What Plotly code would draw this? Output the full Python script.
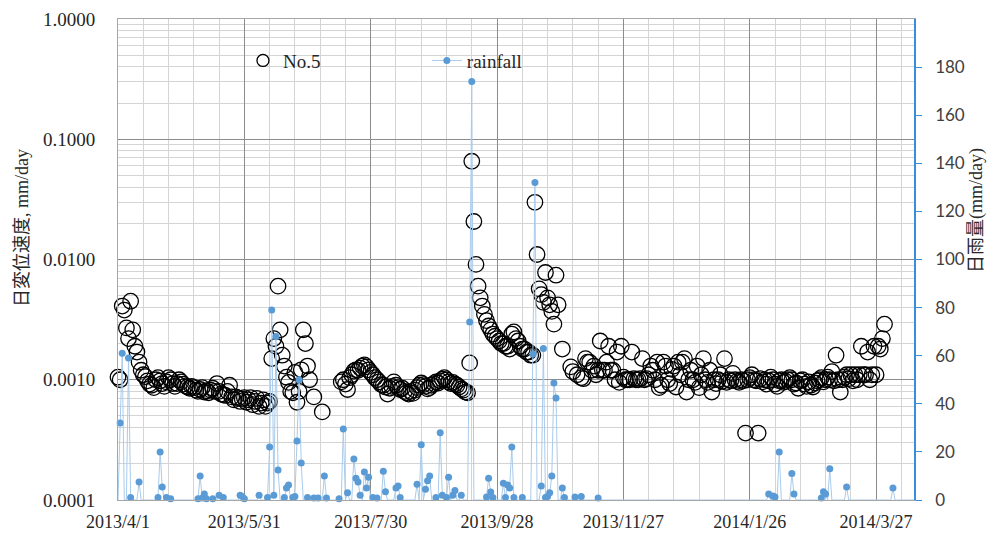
import datetime as dt
import plotly.graph_objects as go

START = dt.date(2013, 4, 1)

# Daily displacement rate at No.5 (mm/day), one value per day from 2013/4/1; None = no reading
rate = [
    0.00105, 0.00100, 0.0041, 0.0038, 0.0027, 0.0022, 0.0045, 0.0026, 0.0019, 0.0017,
    0.0014, 0.0012, 0.00110, 0.00106, 0.00098, 0.00092, 0.00090, 0.00086, 0.00100, 0.00104,
    0.00098, 0.00093, 0.00088, 0.00096, 0.00104, 0.00100, 0.00093, 0.00088, 0.00093, 0.00100,
    0.00096, 0.00092, 0.00089, 0.00087, 0.00085, 0.00088, 0.00086, 0.00082, 0.00080, 0.00083,
    0.00086, 0.00079, 0.00081, 0.00078, 0.00082, 0.00085, 0.00080, 0.00093, 0.00080, 0.00076,
    0.00075, 0.00074, 0.00080, 0.00090, 0.00072, 0.00068, 0.00072, 0.00070, 0.00066, 0.00069,
    0.00071, 0.00065, 0.00068, 0.00071, 0.00062, 0.00066, 0.00070, 0.00060, 0.00064, 0.00068,
    0.00060, 0.00064, 0.00066, 0.0015, 0.0022, 0.0019, 0.0060, 0.0026, 0.0016, 0.0013,
    0.00105, 0.00095, 0.00080, 0.00078, 0.00115, 0.00065, 0.00080, 0.00121, 0.0026, 0.0020,
    0.0013, 0.0010, None, 0.00072, None, None, None, 0.00054, None, None,
    None, None, None, None, None, None, 0.00096, 0.00100, 0.00092, 0.00083,
    0.00104, 0.00110, 0.00118, 0.00121, 0.00120, 0.00125, 0.00130, 0.00133, 0.00128, 0.00121,
    0.00115, 0.00110, 0.00104, 0.00100, 0.00096, 0.00091, 0.00090, 0.00087, 0.00076, 0.00085,
    0.00088, 0.00096, 0.00090, 0.00086, 0.00083, 0.00085, 0.00080, 0.00078, 0.00076, 0.00080,
    0.00077, 0.00082, 0.00086, 0.00090, 0.00094, 0.00091, 0.00088, 0.00084, 0.00086, 0.00090,
    0.00093, 0.00096, 0.00094, 0.00098, 0.00101, 0.00104, 0.00100, 0.00096, 0.00093, 0.00095,
    0.00092, 0.00090, 0.00087, 0.00084, 0.00082, 0.00079, 0.00078, 0.00138, 0.0656, 0.0207,
    0.0091, 0.0060, 0.0048, 0.0041, 0.0035, 0.0031, 0.0028, 0.0026, 0.0024, 0.0023,
    0.0022, 0.0021, 0.0020, 0.0020, 0.0019, 0.0019, 0.0018, 0.0024, 0.0025, 0.0022,
    0.0021, 0.0019, 0.0018, 0.0018, 0.0017, 0.0017, 0.0016, 0.0016, 0.0299, 0.0110,
    0.0057, 0.0051, 0.0044, 0.0078, 0.0048, 0.0042, 0.0037, 0.0029, 0.0074, 0.0042,
    None, 0.0018, None, None, None, 0.00128, 0.00117, None, 0.00110, None,
    0.00104, 0.00102, 0.0015, 0.0014, 0.0014, 0.0012, 0.0013, 0.0011, 0.0012, 0.0021,
    0.0012, 0.0012, 0.0014, 0.0019, 0.0012, 0.0012, 0.0010, 0.0017, 0.00095, 0.0019,
    0.00105, 0.0010, 0.0010, 0.0010, 0.0017, 0.00102, 0.00100, 0.00100, 0.00102, 0.0015,
    0.00100, 0.00102, 0.0011, 0.0013, 0.0012, 0.0010, 0.0014, 0.00086, 0.00090, 0.0014,
    0.0013, 0.0010, 0.00093, 0.00122, 0.0013, 0.00087, 0.0014, 0.0011, 0.0014, 0.0015,
    0.00079, 0.0010, 0.0012, 0.0010, 0.00095, 0.0013, 0.00086, 0.0011, 0.0015, 0.0010,
    0.00095, 0.0012, 0.00079, 0.0010, 0.00093, 0.0010, 0.0011, 0.00097, 0.0015, 0.00095,
    0.0010, 0.00098, 0.00113, 0.0010, 0.00097, 0.00095, 0.0010, 0.00098, 0.00036, 0.0010,
    0.00104, 0.0011, 0.0010, 0.00098, 0.00036, 0.00102, 0.00096, 0.0010, 0.00092, 0.00098,
    0.00105, 0.0010, 0.00092, 0.00088, 0.00098, 0.0010, 0.00095, 0.00097, 0.0010, 0.00104,
    0.0010, 0.00092, 0.00094, 0.00085, 0.00098, 0.0010, 0.00092, 0.00088, 0.00096, 0.00090,
    0.00087, 0.00094, 0.00098, 0.00100, 0.00104, 0.00096, 0.0010, 0.00105, 0.0010, 0.00117,
    0.00098, 0.0016, 0.0010, 0.00079, 0.0010, 0.00105, 0.0011, 0.00102, 0.0011, 0.00098,
    0.0011, 0.0010, 0.0011, 0.0019, 0.0011, 0.0011, 0.0017, 0.0010, 0.0011, 0.0019,
    0.0011, 0.0019, 0.0018, 0.0022, 0.0029,
]

# Rainy days (days after 2013/4/1) and daily rainfall (mm/day); all other days are 0
rain_day = [
    1, 2, 5, 6, 10, 19, 20, 21, 23, 25, 38, 39, 40, 41, 42, 45, 48, 50, 58, 59,
    60, 67, 71, 72, 73, 74, 75, 76, 79, 80, 81, 83, 84, 85, 86, 87, 90, 93, 95, 98,
    99, 105, 107, 109, 112, 113, 114, 115, 117, 118, 119, 121, 123, 126, 127, 132, 133, 134, 142, 144,
    146, 147, 148, 151, 153, 154, 156, 157, 159, 160, 163, 167, 168, 175, 176, 177, 178, 183, 184, 185,
    186, 187, 188, 192, 197, 198, 201, 202, 203, 204, 205, 206, 207, 208, 211, 212, 217, 220, 228, 309,
    311, 312, 314, 320, 321, 334, 335, 336, 338, 346, 368,
]
rain_mm = [
    32, 61, 59, 1, 7.5, 1, 20, 5.4, 1, 0.5, 0.5, 10, 0.8, 2.5, 0.5, 0.5, 2, 1, 2, 1.5,
    0.5, 2, 1, 22, 79, 2, 68, 12.5, 1, 5, 6.2, 1, 1.5, 24.5, 50, 15.4, 1, 0.8, 0.8, 10,
    0.8, 0.5, 29.5, 3, 17, 9, 7.5, 2, 11.6, 5, 9.5, 1, 0.8, 12, 3.4, 5, 5.8, 1, 6.6, 23,
    4.5, 8, 10, 1, 28, 2, 1, 9.5, 2, 4, 2, 74, 174, 1.2, 9, 3.3, 1, 7, 1, 6.2,
    5, 22, 1, 1, 60.7, 132, 5.8, 63, 1, 1.5, 3, 10, 48.6, 42.4, 5, 1, 1.2, 1.5, 0.8, 2.5,
    1.7, 1.2, 20, 11, 2.5, 0.8, 3.4, 2.5, 13, 5.4, 5,
]
RAIN_LAST_DAY = 378

tick_dates = ["2013-04-01", "2013-05-31", "2013-07-30", "2013-09-28",
              "2013-11-27", "2014-01-26", "2014-03-27"]
tick_text = ["2013/4/1", "2013/5/31", "2013/7/30", "2013/9/28",
             "2013/11/27", "2014/1/26", "2014/3/27"]
rate_ticks = [0.0001, 0.001, 0.01, 0.1, 1]
rate_tick_text = ["0.0001", "0.0010", "0.0100", "0.1000", "1.0000"]
rain_ticks = [0, 20, 40, 60, 80, 100, 120, 140, 160, 180]


def day(i):
    return (START + dt.timedelta(days=i)).isoformat()


rate_x = [day(i) for i in range(len(rate))]
rain_lookup = dict(zip(rain_day, rain_mm))
rain_all_x = [day(i) for i in range(RAIN_LAST_DAY + 1)]
rain_all_y = [rain_lookup.get(i, 0) for i in range(RAIN_LAST_DAY + 1)]
rain_x = [day(i) for i in rain_day]

SERIF = "Liberation Serif, Times New Roman, Noto Sans CJK JP, serif"
SANS = "Lato, Noto Sans, sans-serif"
BLUE = "#5B9BD5"
LIGHT_BLUE = "#A9CBEB"
AXIS_BLUE = "#3D8BDC"
MAJOR = "#8C8C8C"
MINOR = "#D4D4D4"

fig = go.Figure()

fig.add_trace(go.Scatter(
    x=rate_x, y=rate, mode="markers", name="No.5", showlegend=False,
    marker=dict(symbol="circle-open", size=15.5, color="black", line=dict(width=1.3, color="black")),
    cliponaxis=False, yaxis="y",
))
fig.add_trace(go.Scatter(
    x=rain_all_x, y=rain_all_y, mode="lines", name="rainfall", showlegend=False,
    line=dict(color=LIGHT_BLUE, width=1), yaxis="y2", cliponaxis=False,
))
fig.add_trace(go.Scatter(
    x=rain_x, y=rain_mm, mode="markers", name="rainfall", showlegend=False,
    marker=dict(size=7, color=BLUE), yaxis="y2", cliponaxis=False,
))
# legend entries
fig.add_trace(go.Scatter(
    x=[None], y=[None], mode="markers", name="No.5", legend="legend",
    marker=dict(symbol="circle-open", size=12, color="black", line=dict(width=1.3, color="black")),
))
fig.add_trace(go.Scatter(
    x=[None], y=[None], mode="lines+markers", name="rainfall", legend="legend2",
    line=dict(color=LIGHT_BLUE, width=1), marker=dict(size=7, color=BLUE), yaxis="y2",
))

fig.update_layout(
    width=987, height=535, autosize=False,
    margin=dict(l=118, r=73, t=19, b=35),
    paper_bgcolor="white", plot_bgcolor="white",
    xaxis=dict(
        type="date", range=["2013-04-01", "2014-04-14"], automargin=False,
        tickmode="array", tickvals=tick_dates, ticktext=tick_text,
        tickfont=dict(family=SERIF, size=18, color="#262626"),
        ticks="", ticklabelstandoff=5,
        showgrid=True, gridcolor=MAJOR, gridwidth=1,
        minor=dict(tick0="2013-04-01", dtick=12 * 86400000, showgrid=True, gridcolor=MINOR, gridwidth=1),
        showline=True, linecolor="#A6A6A6", linewidth=1, mirror=True,
        zeroline=False,
    ),
    yaxis=dict(
        type="log", range=[-4, 0], automargin=False,
        tickmode="array", tickvals=rate_ticks, ticktext=rate_tick_text,
        tickfont=dict(family=SERIF, size=19, color="#262626"),
        ticks="", ticklabelstandoff=18,
        showgrid=True, gridcolor=MAJOR, gridwidth=1,
        minor=dict(dtick="D1", showgrid=True, gridcolor=MINOR, gridwidth=1),
        showline=True, linecolor="#A6A6A6", linewidth=1,
        zeroline=False,
    ),
    yaxis2=dict(
        overlaying="y", side="right", range=[0, 200], automargin=False,
        tickmode="array", tickvals=rain_ticks,
        tickfont=dict(family=SANS, size=17, color="#404040"),
        ticks="outside", ticklen=6, tickcolor=AXIS_BLUE, tickwidth=1, ticklabelstandoff=10,
        showgrid=False, zeroline=False,
        showline=True, linecolor=AXIS_BLUE, linewidth=1.5,
    ),
    legend=dict(
        x=0.157, y=0.953, xanchor="left", yanchor="top", orientation="h",
        bgcolor="rgba(0,0,0,0)", font=dict(family=SERIF, size=19, color="#262626"),
        itemsizing="trace",
    ),
    legend2=dict(
        x=0.388, y=0.953, xanchor="left", yanchor="top", orientation="h",
        bgcolor="rgba(0,0,0,0)", font=dict(family=SERIF, size=19, color="#262626"),
        itemsizing="trace",
    ),
    annotations=[
        dict(text="日変位速度, mm/day", xref="paper", yref="paper",
             x=(22 - 118) / 796, y=(500 - 228) / 481, textangle=-90, showarrow=False,
             font=dict(family=SERIF, size=18, color="#262626"), xanchor="center", yanchor="middle"),
        dict(text="日雨量(mm/day)", xref="paper", yref="paper",
             x=(976 - 118) / 796, y=(500 - 211) / 481, textangle=-90, showarrow=False,
             font=dict(family=SERIF, size=18, color="#262626"), xanchor="center", yanchor="middle"),
    ],
)

fig.write_html("out.html")
